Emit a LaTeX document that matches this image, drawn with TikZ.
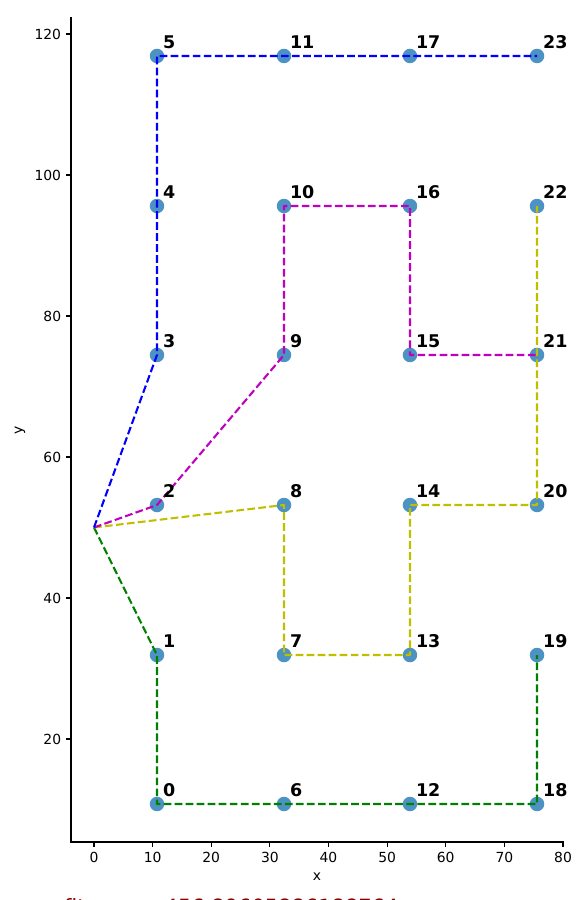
\documentclass[tikz,border=0pt]{standalone}
\usepackage{fontspec}
\setmainfont{DejaVu Sans}
\definecolor{tabblue}{HTML}{1F77B4}
\definecolor{rblue}{HTML}{0000FF}
\definecolor{rmag}{HTML}{BF00BF}
\definecolor{ryel}{HTML}{BFBF00}
\definecolor{rgreen}{HTML}{008000}
\definecolor{fitred}{HTML}{8B0000}
\begin{document}
\begin{tikzpicture}[x=5.8625pt,y=7.05pt,
  mk/.style={circle,fill=tabblue,fill opacity=0.8,draw=none,minimum size=14.5pt,inner sep=0pt},
  route/.style={line width=2.08pt,dash pattern=on 7.7pt off 3.33pt,line join=round},
  lbl/.style={anchor=base west,inner sep=0pt,font=\fontsize{17.5}{19}\selectfont\bfseries},
  tick/.style={line width=1.1pt,black},
  ticklbl/.style={inner sep=0pt,font=\fontsize{13.9}{16}\selectfont},
  spine/.style={line width=1.1pt,black,line cap=rect}]
\useasboundingbox (-16.034,-2.837) rectangle (83.241,124.823);
% spines
\draw[spine] (-3.923,122.27) -- (-3.923,5.39) -- (80,5.39);
% x ticks
\foreach \v in {0,10,...,80}{
  \draw[tick] (\v,5.39) -- ++(0,-4.86pt);
  \node[ticklbl,anchor=north] (xt\v) at ([yshift=-9.7pt]\v,5.39) {\v};
}
% y ticks
\foreach \v in {20,40,...,120}{
  \draw[tick] (-3.923,\v) -- ++(-4.86pt,0);
  \node[ticklbl,anchor=east] (yt\v) at ([xshift=-9.7pt]-3.923,\v) {\v};
}
\node[ticklbl] (xlab) at (38.04,0.426) {x};
\node[ticklbl,rotate=90] (ylab) at (-12.62,63.83) {y};
% customer points
\foreach \i/\x in {0/10.746,1/32.41,2/53.90,3/75.57}{
  \foreach \j/\y in {0/10.78,1/31.91,2/53.19,3/74.47,4/95.60,5/116.88}{
    \pgfmathtruncatemacro{\k}{6*\i+\j}
    \node[mk] (p\k) at (\x,\y) {};
  }
}
\coordinate (d) at (0,50);
% routes
\draw[route,rgreen] (d) -- (p1.center) -- (p0.center) -- (p6.center) -- (p12.center) -- (p18.center) -- (p19.center);
\draw[route,ryel] (d) -- (p8.center) -- (p7.center) -- (p13.center) -- (p14.center) -- (p20.center) -- (p21.center) -- (p22.center);
\draw[route,rmag] (d) -- (p2.center) -- (p9.center) -- (p10.center) -- (p16.center) -- (p15.center) -- (p21.center);
\draw[route,rblue] (d) -- (p3.center) -- (p4.center) -- (p5.center) -- (p11.center) -- (p17.center) -- (p23.center);
% labels
\foreach \k in {0,...,23}{
  \node[lbl] (l\k) at ([shift={(1,1)}]p\k.center) {\k};
}
% fitness text (cut off at the bottom, as in the reference)
\node[anchor=north west,inner sep=0pt,text=fitred,font=\fontsize{21}{24}\selectfont] (fit) at (-5.117,-2.55) {fitness = 456.89605886188764};
\end{tikzpicture}
\end{document}
